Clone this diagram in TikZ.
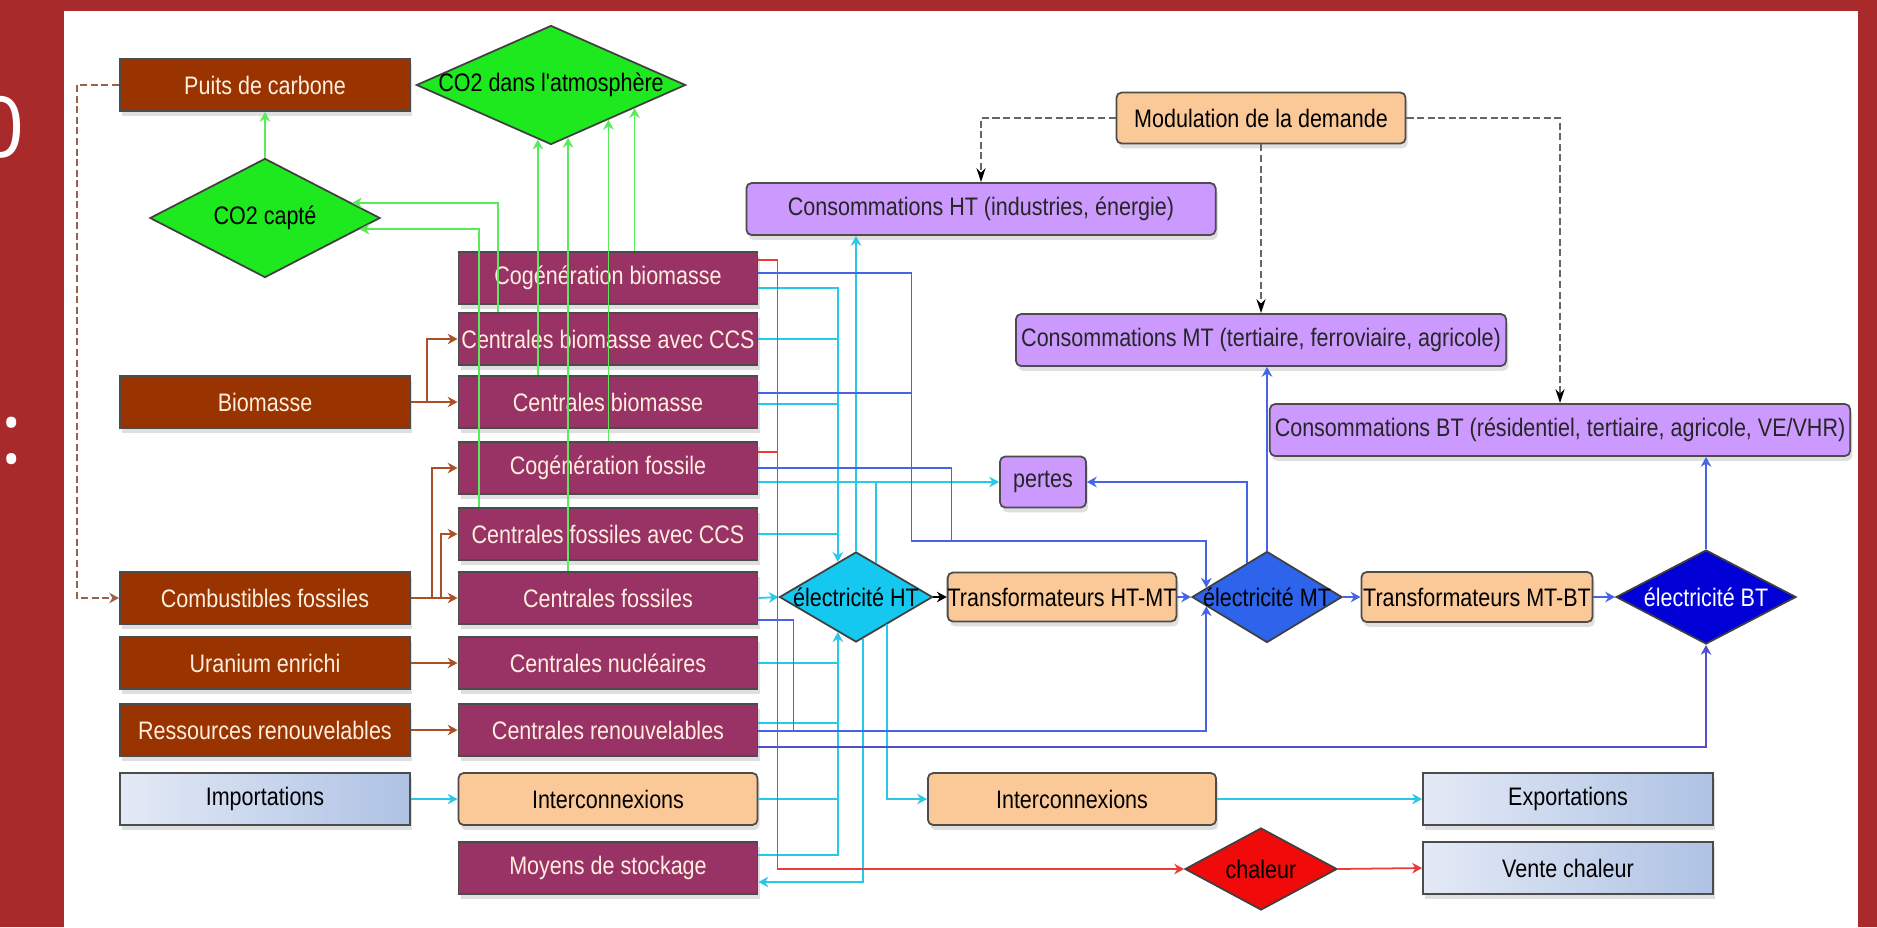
\documentclass[tikz,border=0pt]{standalone}
\usepackage{fontspec}
\newfontfamily\condsans{Liberation Sans}[FakeStretch=0.85]
\newfontfamily\slidefont{Open Sans}
\usetikzlibrary{arrows.meta,calc,shapes.geometric,shadows}
\definecolor{framered}{RGB}{168,42,42}
\definecolor{srcbrown}{RGB}{153,51,0}
\definecolor{plantmag}{RGB}{153,51,102}
\definecolor{cream}{RGB}{255,238,222}
\definecolor{peach}{RGB}{251,201,152}
\definecolor{lilac}{RGB}{204,153,255}
\definecolor{extL}{RGB}{228,234,246}
\definecolor{extR}{RGB}{174,194,228}
\definecolor{greenf}{RGB}{30,232,30}
\definecolor{htcyan}{RGB}{20,200,240}
\definecolor{mtblue}{RGB}{45,100,235}
\definecolor{btblue}{RGB}{0,0,215}
\definecolor{heatred}{RGB}{240,10,10}
\definecolor{brline}{RGB}{170,80,40}
\definecolor{cyline}{RGB}{40,200,232}
\definecolor{blline}{RGB}{70,100,230}
\definecolor{dbline}{RGB}{80,80,205}
\definecolor{rdline}{RGB}{235,60,60}
\definecolor{grline}{RGB}{90,235,90}
\newcommand{\zw}[1]{\makebox[0pt]{#1}}

\begin{document}
\begin{tikzpicture}[x=0.01cm,y=-0.01cm,font=\condsans\fontsize{7.2}{8.6}\selectfont,
  >={Stealth[length=2.8pt,width=3pt]},
  flowbox/.style={draw=black!70,line width=0.5pt,inner sep=0pt,minimum height=0.52cm,
    drop shadow={shadow xshift=0.6pt,shadow yshift=-1.4pt,opacity=0.25}},
  src/.style={flowbox,fill=srcbrown,text=cream,minimum width=2.9cm},
  plant/.style={flowbox,fill=plantmag,text=cream,minimum width=2.99cm},
  orng/.style={flowbox,fill=peach,rounded corners=1.5pt},
  cons/.style={flowbox,fill=lilac,rounded corners=1.5pt,text=black!85},
  ext/.style={flowbox,left color=extL,right color=extR,minimum width=2.9cm},
  dia/.style={diamond,draw=black!75,line width=0.5pt,inner sep=0pt},
  br/.style={draw=brline,line width=0.5pt},
  cy/.style={draw=cyline,line width=0.5pt},
  bl/.style={draw=blline,line width=0.5pt},
  dbl/.style={draw=dbline,line width=0.8pt},
  rd/.style={draw=rdline,line width=0.5pt},
  gr/.style={draw=grline,line width=0.5pt},
  blk/.style={draw=black,line width=0.5pt},
  dsh/.style={draw=black!60,line width=0.5pt,dash pattern=on 2pt off 1pt,-{Stealth[length=4pt,width=2.6pt,color=black]}},
  pdash/.style={draw=brline!60!gray,line width=0.5pt,dash pattern=on 2pt off 1pt}]
\useasboundingbox (0,0) rectangle (1877,927);
\fill[framered] (0,0) rectangle (1877,927);
\fill[white] (64,11) rectangle (1858,927);
\node[text=white,font=\slidefont\fontsize{24}{24}\selectfont,inner sep=0pt,anchor=east] (frag0) at (25,127) {0};
\node[text=white,font=\slidefont\fontsize{24}{24}\selectfont,inner sep=0pt] (fragcolon) at (12,441) {:};

\node[src] (puits) at (265,85) {Puits de carbone};
\node[src] (biomasse) at (265,402) {Biomasse};
\node[src] (combfos) at (265,598) {Combustibles fossiles};
\node[src] (uranium) at (265,663) {Uranium enrichi};
\node[src] (ressren) at (265,730) {Ressources renouvelables};
\node[ext] (import) at (265,799) {Importations};

\node[plant] (cogbio) at (608,278) {Cogénération biomasse};
\node[plant] (ccsbio) at (608,339) {Centrales biomasse avec CCS};
\node[plant] (cbio) at (608,402) {Centrales biomasse};
\node[plant] (cogfos) at (608,468) {Cogénération fossile};
\node[plant] (ccsfos) at (608,534) {Centrales fossiles avec CCS};
\node[plant] (cfos) at (608,598) {Centrales fossiles};
\node[plant] (cnuc) at (608,663) {Centrales nucléaires};
\node[plant] (cren) at (608,730) {Centrales renouvelables};
\node[orng,minimum width=2.99cm] (inter1) at (608,799) {Interconnexions};
\node[plant] (stock) at (608,868) {Moyens de stockage};

\node[dia,fill=greenf,minimum width=2.69cm,minimum height=1.19cm] (atmo) at (551,85) {\zw{CO2 dans l'atmosphère}};
\node[dia,fill=greenf,minimum width=2.3cm,minimum height=1.19cm] (capte) at (265,218) {\zw{CO2 capté}};
\node[dia,fill=htcyan,minimum width=1.53cm,minimum height=0.9cm] (ht) at (856,597) {\zw{électricité HT}};
\node[dia,fill=mtblue,minimum width=1.5cm,minimum height=0.91cm] (mt) at (1267,597) {\zw{électricité MT}};
\node[dia,fill=btblue,text=white,minimum width=1.8cm,minimum height=0.94cm] (bt) at (1706,597) {\zw{électricité BT}};
\node[dia,fill=heatred,minimum width=1.52cm,minimum height=0.82cm] (chaleur) at (1261,869) {\zw{chaleur}};

\node[orng,minimum width=2.89cm,minimum height=0.51cm] (modul) at (1261,118) {Modulation de la demande};
\node[cons,minimum width=4.69cm] (consht) at (981,209) {Consommations HT (industries, énergie)};
\node[cons,minimum width=4.9cm] (consmt) at (1261,340) {Consommations MT (tertiaire, ferroviaire, agricole)};
\node[cons,minimum width=5.8cm] (consbt) at (1560,430) {Consommations BT (résidentiel, tertiaire, agricole, VE/VHR)};
\node[cons,minimum width=0.86cm,minimum height=0.51cm] (pertes) at (1043,482) {pertes};
\node[orng,minimum width=2.28cm,minimum height=0.49cm] (trhtmt) at (1062,597) {Transformateurs HT-MT};
\node[orng,minimum width=2.31cm,minimum height=0.5cm] (trmtbt) at (1477,597) {Transformateurs MT-BT};
\node[orng,minimum width=2.88cm] (inter2) at (1072,799) {Interconnexions};
\node[ext] (export) at (1568,799) {Exportations};
\node[ext] (vente) at (1568,868) {Vente chaleur};

% ressources
\draw[br,->] (biomasse.east) -- ++(16,0) |- (ccsbio.west);
\draw[br,->] (biomasse.east) -- (cbio.west);
\draw[br,->] (combfos.east) -- ++(21,0) |- (cogfos.west);
\draw[br,->] (combfos.east) -- ++(30,0) |- (ccsfos.west);
\draw[br,->] (combfos.east) -- (cfos.west);
\draw[br,->] (uranium.east) -- (cnuc.west);
\draw[br,->] (ressren.east) -- (cren.west);
\draw[cy,->] (import.east) -- (inter1.west);
\draw[pdash,->] (puits.west) -- ++(-42,0) |- (combfos.west);

% CO2
\coordinate (a1) at ($(atmo.south)!0.097!(atmo.west)$);
\coordinate (a2) at ($(atmo.south)!0.126!(atmo.east)$);
\coordinate (a3) at ($(atmo.south)!0.424!(atmo.east)$);
\coordinate (a4) at ($(atmo.south)!0.617!(atmo.east)$);
\draw[gr,->] (capte.north) -- (puits.south);
\draw[gr,->] ([xshift=-1.1cm]ccsbio.north) |- ($(capte.north)!0.75!(capte.east)$);
\draw[gr,->] ([xshift=-1.29cm]ccsfos.north) |- ($(capte.east)!0.185!(capte.south)$);
\draw[gr,->] (cbio.north -| a1) -- (a1);
\draw[gr,->] (cfos.north -| a2) -- (a2);
\draw[gr,->] (cogfos.north -| a3) -- (a3);
\draw[gr,->] (cogbio.north -| a4) -- (a4);

% HT
\coordinate (hin) at ($(ht.north)!0.235!(ht.west)$);
\coordinate (hbot) at ($(ht.south)!0.235!(ht.west)$);
\coordinate (hp) at ($(ht.north)!0.26!(ht.east)$);
\draw[cy,->] ($(cogbio.east)+(0,10)$) -| (hin);
\draw[cy] (ccsbio.east) -- (ccsbio.east -| hin);
\draw[cy] ($(cbio.east)+(0,2)$) -- ($(cbio.east -| hin)+(0,2)$);
\draw[cy] (ccsfos.east) -- (ccsfos.east -| hin);
\draw[cy,->] (cfos.east) -- (ht.west);
\draw[cy,->] ($(stock.east)+(0,-13)$) -| (hbot);
\draw[cy] (cnuc.east) -- (cnuc.east -| hbot);
\draw[cy] ($(cren.east)+(0,-7)$) -- ($(cren.east -| hbot)+(0,-7)$);
\draw[cy] (inter1.east) -- (inter1.east -| hbot);
\draw[cy,->] (ht.north) -- (ht.north |- consht.south);
\draw[cy,->] ($(ht.south)!0.09!(ht.east)$) |- ($(stock.east)+(0,14)$);
\draw[cy,->] ($(ht.south)!0.405!(ht.east)$) |- (inter2.west);
\draw[cy,->] (hp) |- (pertes.west);
\draw[cy] ($(cogfos.east)+(0,14)$) -- (hp |- pertes.west);
\draw[cy,->] (inter2.east) -- (export.west);
\draw[blk,->] (ht.east) -- (trhtmt.west);

% MT, BT
\coordinate (mtin) at ($(mt.north)!0.8!(mt.west)$);
\coordinate (mtbot) at ($(mt.south)!0.8!(mt.west)$);
\coordinate (bus) at ($(mtin)+(0,-47)$);
\draw[bl,->] ($(cogbio.east)+(0,-5)$) -- ++(153,0) |- (bus) -- (mtin);
\draw[bl] ($(cbio.east)+(0,-9)$) -- ++(153,0);
\draw[bl] (cogfos.east) -- ++(193,0) |- (bus);
\draw[bl,->] ($(cren.east)+(0,1)$) -| (mtbot);
\draw[bl] ($(cfos.east)+(0,22)$) -- ++(35,0) -- ++(0,111);
\draw[dbl,->] ($(cren.east)+(0,17)$) -| (bt.south);
\draw[bl,->] ($(mt.north)!0.267!(mt.west)$) |- (pertes.east);
\draw[bl,->] (trhtmt.east) -- (mt.west);
\draw[bl,->] (mt.east) -- (trmtbt.west);
\draw[bl,->] (trmtbt.east) -- (bt.west);
\draw[bl,->] (mt.north) -- (mt.north |- consmt.south);
\draw[bl,->] (bt.north) -- (bt.north |- consbt.south);

% chaleur
\draw[rd,->] ($(cogbio.east)+(0,-18)$) -- ++(19,0) |- (chaleur.west);
\draw[rd] ($(cogfos.east)+(0,-16)$) -- ++(19,0);
\draw[rd,->] (chaleur.east) -- (vente.west);

% demande
\draw[dsh] (modul.west) -| (consht.north);
\draw[dsh] (modul.south) -- (consmt.north);
\draw[dsh] (modul.east) -| (consbt.north);
\end{tikzpicture}
\end{document}
